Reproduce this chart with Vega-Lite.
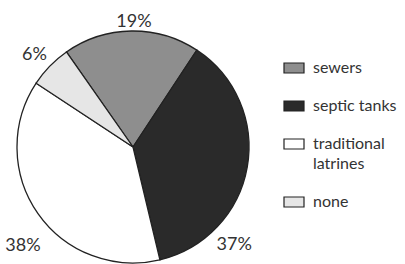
{
  "$schema": "https://vega.github.io/schema/vega-lite/v6.json",
  "width": 266,
  "height": 232,
  "autosize": {"type": "none"},
  "padding": {"left": 0, "top": 31, "right": 139, "bottom": 1},
  "background": "white",
  "config": {"style": {"guide-label": {"lineHeight": 20}}},
  "data": {
    "values": [
      {"category": "sewers", "percent": 19, "label": "19%", "rank": 1},
      {"category": "septic tanks", "percent": 37, "label": "37%", "rank": 2},
      {"category": "traditional latrines", "percent": 38, "label": "38%", "rank": 3},
      {"category": "none", "percent": 6, "label": "6%", "rank": 4}
    ]
  },
  "layer": [
    {
      "mark": {"type": "arc", "outerRadius": 116, "stroke": "#222", "strokeWidth": 1.3},
      "encoding": {
        "theta": {"field": "percent", "type": "quantitative", "stack": true, "scale": {"range": [-0.611, 5.672]}},
        "order": {"field": "rank", "type": "quantitative"},
        "fill": {
          "field": "category",
          "type": "nominal",
          "sort": ["sewers", "septic tanks", "traditional latrines", "none"],
          "scale": {
            "domain": ["sewers", "septic tanks", "traditional latrines", "none"],
            "range": ["#8e8e8e", "#2a2a2a", "#ffffff", "#e6e6e6"]
          },
          "legend": {
            "title": null,
            "orient": "none",
            "legendX": 283,
            "legendY": 26,
            "padding": 0,
            "symbolType": "M-1,-0.5H1V0.5H-1Z",
            "symbolSize": 400,
            "symbolStrokeColor": "#222",
            "symbolStrokeWidth": 1.2,
            "symbolOpacity": 1,
            "labelFont": "Lato",
            "labelFontSize": 16,
            "labelColor": "#333",
            "labelOffset": 8,
            "labelLimit": 200,
            "rowPadding": 19,
            "labelExpr": "datum.label == 'traditional latrines' ? ['traditional', 'latrines'] : datum.label"
          }
        }
      }
    },
    {
      "transform": [
        {"stack": "percent", "groupby": [], "sort": [{"field": "rank"}], "as": ["s0", "s1"]},
        {"filter": "datum.category == 'sewers'"}
      ],
      "mark": {"type": "text", "radius": 125, "thetaOffset": 0.619, "font": "Lato", "fontSize": 18, "color": "#333"},
      "encoding": {"theta": {"field": "s0", "type": "quantitative", "stack": null}, "text": {"field": "label"}}
    },
    {
      "transform": [
        {"stack": "percent", "groupby": [], "sort": [{"field": "rank"}], "as": ["s0", "s1"]},
        {"filter": "datum.category == 'septic tanks'"}
      ],
      "mark": {"type": "text", "radius": 141, "thetaOffset": 1.758, "font": "Lato", "fontSize": 18, "color": "#333"},
      "encoding": {"theta": {"field": "s0", "type": "quantitative", "stack": null}, "text": {"field": "label"}}
    },
    {
      "transform": [
        {"stack": "percent", "groupby": [], "sort": [{"field": "rank"}], "as": ["s0", "s1"]},
        {"filter": "datum.category == 'traditional latrines'"}
      ],
      "mark": {"type": "text", "radius": 148, "thetaOffset": 1.072, "font": "Lato", "fontSize": 18, "color": "#333"},
      "encoding": {"theta": {"field": "s0", "type": "quantitative", "stack": null}, "text": {"field": "label"}}
    },
    {
      "transform": [
        {"stack": "percent", "groupby": [], "sort": [{"field": "rank"}], "as": ["s0", "s1"]},
        {"filter": "datum.category == 'none'"}
      ],
      "mark": {"type": "text", "radius": 135, "thetaOffset": 0.17, "font": "Lato", "fontSize": 18, "color": "#333"},
      "encoding": {"theta": {"field": "s0", "type": "quantitative", "stack": null}, "text": {"field": "label"}}
    }
  ]
}
